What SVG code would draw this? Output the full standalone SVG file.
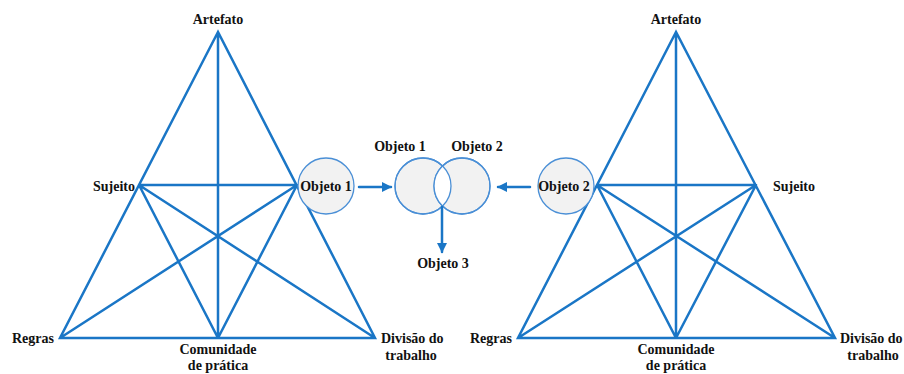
<svg xmlns="http://www.w3.org/2000/svg" width="904" height="374" viewBox="0 0 904 374">
  <style>
    .edge { stroke: #1a76c6; stroke-width: 2.5; fill: none; stroke-linecap: round; }
    .obj { fill: #f2f2f2; stroke: #4a8fd6; stroke-width: 1.3; }
    .lbl { font-family: "Liberation Serif", "Times New Roman", serif; font-weight: bold; font-size: 14px; fill: #111; }
    .mid { text-anchor: middle; }
    .end { text-anchor: end; }
  </style>
  <defs>
    <marker id="arrow" viewBox="0 0 10 10" refX="9" refY="5" markerWidth="4" markerHeight="4" orient="auto">
      <path d="M0,0 L10,5 L0,10 z" fill="#1a76c6"/>
    </marker>
  </defs>

  <!-- left activity system -->
  <g id="system1">
    <path class="edge" d="M218,32 L60,338 L375,338 Z M218,32 L218,338 M139,185 L297,185 M139,185 L375,338 M297,185 L60,338 M139,185 L218,338 M297,185 L218,338"/>
    <g id="object1">
      <circle class="obj" cx="326" cy="186" r="28"/>
      <text class="lbl mid" x="326" y="191">Objeto 1</text>
    </g>
    <text class="lbl mid" x="218" y="24">Artefato</text>
    <text class="lbl end" x="135" y="191">Sujeito</text>
    <text class="lbl end" x="54" y="343">Regras</text>
    <text class="lbl mid" x="218" y="354">Comunidade</text>
    <text class="lbl mid" x="218" y="370">de prática</text>
    <text class="lbl" x="381" y="343">Divisão do</text>
    <text class="lbl mid" x="411" y="360">trabalho</text>
  </g>

  <!-- right activity system -->
  <g id="system2">
    <path class="edge" d="M676,32 L518,338 L835,338 Z M676,32 L676,338 M597,185 L756,185 M756,185 L518,338 M597,185 L835,338 M756,185 L676,338 M597,185 L676,338"/>
    <g id="object2">
      <circle class="obj" cx="566" cy="186" r="28"/>
      <text class="lbl mid" x="564" y="191">Objeto 2</text>
    </g>
    <text class="lbl mid" x="676" y="24">Artefato</text>
    <text class="lbl" x="773" y="191">Sujeito</text>
    <text class="lbl end" x="512" y="343">Regras</text>
    <text class="lbl mid" x="676" y="354">Comunidade</text>
    <text class="lbl mid" x="676" y="370">de prática</text>
    <text class="lbl" x="840" y="343">Divisão do</text>
    <text class="lbl mid" x="873" y="360">trabalho</text>
  </g>

  <!-- shared object -->
  <g id="shared">
    <circle class="obj" cx="423" cy="186" r="28"/>
    <circle class="obj" cx="462" cy="186" r="28"/>
    <path d="M442.5,165.9 A28,28 0 0 1 442.5,206.1 A28,28 0 0 1 442.5,165.9 Z" fill="#fff" stroke="none"/>
    <circle cx="423" cy="186" r="28" fill="none" stroke="#4a8fd6" stroke-width="1.3"/>
    <circle cx="462" cy="186" r="28" fill="none" stroke="#4a8fd6" stroke-width="1.3"/>
    <text class="lbl mid" x="400" y="151">Objeto 1</text>
    <text class="lbl mid" x="477" y="151">Objeto 2</text>
    <text class="lbl mid" x="443" y="268">Objeto 3</text>
  </g>

  <g id="connectors">
    <line class="edge" x1="359" y1="187" x2="391" y2="187" marker-end="url(#arrow)"/>
    <line class="edge" x1="530" y1="187" x2="498" y2="187" marker-end="url(#arrow)"/>
    <line class="edge" x1="442" y1="207" x2="442" y2="252" marker-end="url(#arrow)"/>
  </g>
</svg>
